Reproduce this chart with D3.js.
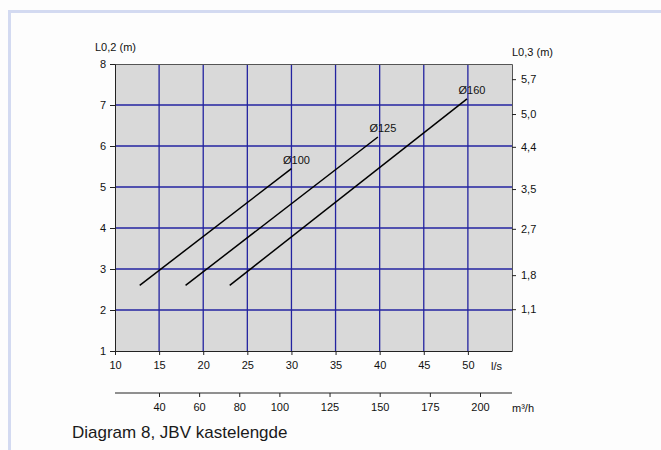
<!DOCTYPE html>
<html lang="no">
<head>
<meta charset="utf-8" />
<title>Diagram 8, JBV kastelengde</title>
<script src="https://d3js.org/d3.v7.min.js"></script>
<style>
    body { margin: 0; background: #fdfdfd; }
    svg { font-family: "Liberation Sans", Arial, sans-serif; }
    .axis text { font-size: 11px; fill: #111; }
    .axis path, .axis line { stroke: #222; }
    .grid line { stroke: #2323a0; stroke-width: 1.3; }
</style>
</head>
<body>
<script>
    // data
    const seriesNames = ["Ø100", "Ø125", "Ø160"];
    const flowStart = [12.8, 18.0, 23.0];   // l/s
    const flowEnd = [30.0, 39.8, 49.9];
    const lenStart = [2.6, 2.6, 2.6];       // L0,2 (m)
    const lenEnd = [5.45, 6.22, 7.15];

    const xTicks = [10, 15, 20, 25, 30, 35, 40, 45, 50];
    const yTicks = [1, 2, 3, 4, 5, 6, 7, 8];
    // right axis: label and where it sits on the L0,2 scale
    const rightLabels = ["5,7", "5,0", "4,4", "3,5", "2,7", "1,8", "1,1"];
    const rightAt = [7.63, 6.78, 5.98, 4.95, 3.98, 2.85, 2.02];
    // lower axis in m³/h
    const m3hTicks = [40, 60, 80, 100, 125, 150, 175, 200];

    const W = 661, H = 450;
    const svg = d3.select("body").append("svg").attr("width", W).attr("height", H);

    // light frame round the figure
    svg.append("rect")
        .attr("x", 9.5).attr("y", 11.5)
        .attr("width", W).attr("height", H)
        .attr("fill", "none").attr("stroke", "#d3daf1").attr("stroke-width", 3);

    const x = d3.scaleLinear().domain([10, 55]).range([115, 512]);
    const y = d3.scaleLinear().domain([1, 8]).range([351, 64]);
    const xm = d3.scaleLinear().domain([40, 200]).range([159, 480]);

    // plot background
    svg.append("rect")
        .attr("x", x(10)).attr("y", y(8))
        .attr("width", x(55) - x(10)).attr("height", y(1) - y(8))
        .attr("fill", "#d9d9d9");

    // grid
    const grid = svg.append("g").attr("class", "grid");
    grid.selectAll("line.vg").data(xTicks.filter((d) => d > 10))
        .join("line").attr("class", "vg")
        .attr("x1", (d) => x(d)).attr("x2", (d) => x(d))
        .attr("y1", y(8)).attr("y2", y(1));
    grid.selectAll("line.hg").data(yTicks.filter((d) => d > 1 && d < 8))
        .join("line").attr("class", "hg")
        .attr("x1", x(10)).attr("x2", x(55))
        .attr("y1", (d) => y(d)).attr("y2", (d) => y(d));

    // top and right border
    svg.append("path")
        .attr("d", `M${x(10)},${y(8) + 0.5}H${x(55) + 0.5}V${y(1)}`)
        .attr("fill", "none").attr("stroke", "#555");

    // axes
    svg.append("g").attr("class", "axis")
        .attr("transform", `translate(${x(10)},0)`)
        .call(d3.axisLeft(y).tickValues(yTicks).tickSize(5).tickSizeOuter(0).tickFormat(d3.format("d")))
        .call((g) => g.selectAll("text").attr("x", -9));

    svg.append("g").attr("class", "axis")
        .attr("transform", `translate(0,${y(1)})`)
        .call(d3.axisBottom(x).tickValues(xTicks).tickSize(4).tickSizeOuter(0).tickFormat(d3.format("d")))
        .call((g) => g.selectAll("text").attr("y", 10));

    svg.append("g").attr("class", "axis")
        .attr("transform", `translate(${x(55)},0)`)
        .call(d3.axisRight(y).tickValues(rightAt).tickSize(4)
            .tickFormat((d, i) => rightLabels[i]))
        .call((g) => g.select(".domain").remove())
        .call((g) => g.selectAll("text").attr("x", 9));

    // lower m³/h axis
    const xmAxis = svg.append("g").attr("class", "axis")
        .attr("transform", `translate(0,393)`)
        .call(d3.axisBottom(xm).tickValues(m3hTicks).tickSize(4).tickSizeOuter(0))
        .call((g) => g.selectAll("text").attr("y", 10));
    xmAxis.select(".domain").attr("d", `M${x(10)},0H${x(55)}`);

    // unit labels
    svg.append("text").attr("x", 95).attr("y", 51).attr("font-size", 11).attr("fill", "#111").text("L0,2 (m)");
    svg.append("text").attr("x", 512).attr("y", 56).attr("font-size", 11).attr("fill", "#111").text("L0,3 (m)");
    svg.append("text").attr("x", 491).attr("y", 370).attr("font-size", 11).attr("fill", "#111").text("l/s");
    svg.append("text").attr("x", 512).attr("y", 412).attr("font-size", 11).attr("fill", "#111").text("m³/h");

    // series lines
    const lines = seriesNames.map((name, i) => ({
        name,
        pts: [[flowStart[i], lenStart[i]], [flowEnd[i], lenEnd[i]]]
    }));
    const line = d3.line().x((d) => x(d[0])).y((d) => y(d[1]));
    svg.append("g").selectAll("path").data(lines).join("path")
        .attr("d", (d) => line(d.pts))
        .attr("fill", "none").attr("stroke", "#000").attr("stroke-width", 1.5);

    svg.append("g").selectAll("text").data(lines).join("text")
        .attr("x", (d) => x(d.pts[1][0]) + 5)
        .attr("y", (d) => y(d.pts[1][1]) - 5)
        .attr("text-anchor", "middle")
        .attr("font-size", 11).attr("fill", "#111")
        .text((d) => d.name);

    // caption
    svg.append("text").attr("x", 72).attr("y", 438)
        .attr("font-size", 17).attr("fill", "#1a1a1a")
        .text("Diagram 8, JBV kastelengde");
</script>
</body>
</html>
